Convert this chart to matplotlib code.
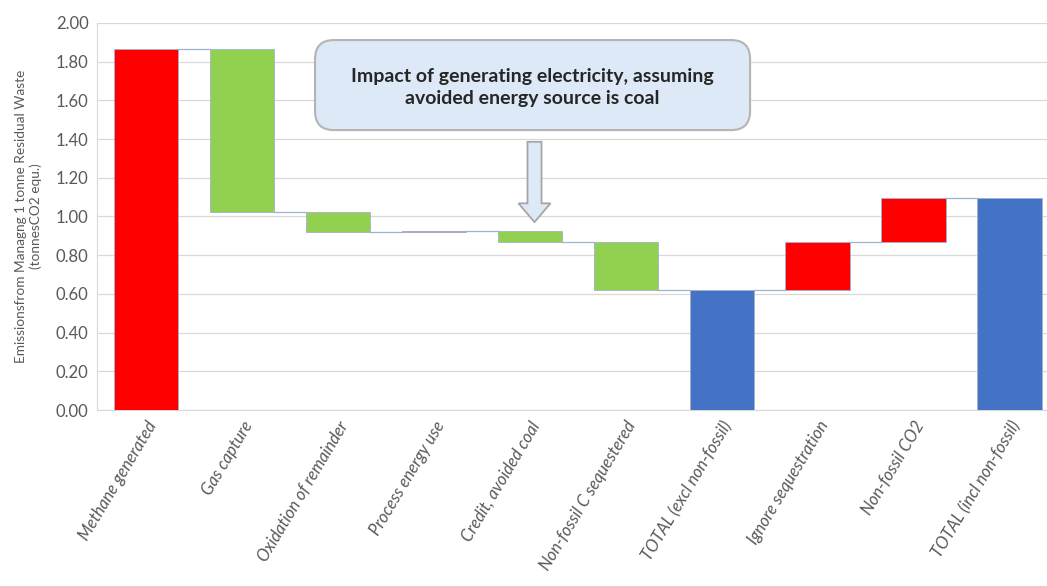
import numpy as np
from matplotlib import pyplot as plt
from matplotlib.patches import FancyArrow, FancyBboxPatch

categories = [
    "Methane generated",
    "Gas capture",
    "Oxidation of remainder",
    "Process energy use",
    "Credit, avoided coal",
    "Non-fossil C sequestered",
    "TOTAL (excl non-fossil)",
    "Ignore sequestration",
    "Non-fossil CO2",
    "TOTAL (incl non-fossil)",
]
# step changes; None marks a running-total bar
changes = [1.866, -0.845, -0.100, 0.005, -0.060, -0.247, None, 0.247, 0.231, None]
yticks = [0.0, 0.2, 0.4, 0.6, 0.8, 1.0, 1.2, 1.4, 1.6, 1.8, 2.0]

RED = "#ff0000"
GREEN = "#92d050"
BLUE = "#4472c4"
EDGE = "#9fb3cc"

plt.rcParams["font.family"] = ["Lato", "DejaVu Sans"]

fig = plt.figure(figsize=(10.47, 5.86), dpi=100)
ax = fig.add_axes([0.0926, 0.3003, 0.9074, 0.6605])

bottoms, heights, colors, tops = [], [], [], []
level = 0.0
for ch in changes:
    if ch is None:
        bottoms.append(0.0)
        heights.append(level)
        colors.append(BLUE)
    else:
        start = level
        level = level + ch
        bottoms.append(min(start, level))
        heights.append(abs(ch))
        colors.append(RED if ch > 0 else GREEN)
    tops.append(level)

x = np.arange(len(categories))
width = 0.67
ax.bar(x, heights, width, bottom=bottoms, color=colors,
       edgecolor=EDGE, linewidth=0.6, zorder=3)

# connectors between consecutive bars
for i in range(len(x) - 1):
    ax.plot([x[i] + width / 2, x[i + 1] - width / 2], [tops[i], tops[i]],
            color=EDGE, linewidth=0.9, zorder=2)

ax.set_xlim(-0.51, 9.39)
ax.set_ylim(0, 2.0)
ax.set_yticks(yticks)
ax.set_yticklabels([f"{v:.2f}" for v in yticks], fontsize=12, color="#595959")
ax.set_xticks(x)
ax.set_xticklabels(categories, rotation=59, ha="right", va="top",
                   rotation_mode="anchor", fontsize=12, style="italic",
                   color="#595959")
ax.tick_params(length=0, pad=6)
ax.grid(True, axis="y", color="#d9d9d9", linewidth=0.9, zorder=0)
for side in ["top", "right"]:
    ax.spines[side].set_visible(False)
for side in ["left", "bottom"]:
    ax.spines[side].set_color("#d9d9d9")
ax.set_ylabel("Emissionsfrom Managng 1 tonne Residual Waste\n(tonnesCO2 equ.)",
              fontsize=9.8, color="#595959", labelpad=10)

# callout box and arrow pointing at the coal credit
box = FancyBboxPatch((0.3009, 0.778), 0.4155, 0.1536, transform=fig.transFigure,
                     boxstyle="round,pad=0,rounding_size=0.018",
                     facecolor="#dde9f7", edgecolor="#b4b4b4", linewidth=1.5,
                     mutation_aspect=1.79, zorder=5)
fig.patches.append(box)
fig.text(0.5086, 0.850,
         "Impact of generating electricity, assuming\navoided energy source is coal",
         ha="center", va="center", fontsize=14, fontweight="bold",
         color="#262626", linespacing=1.35, zorder=6)
arrow = FancyArrow(0.5105, 0.758, 0, -0.137, width=0.0134, head_width=0.0306,
                   head_length=0.032, length_includes_head=True,
                   transform=fig.transFigure, facecolor="#dde9f7",
                   edgecolor="#a6a6a6", linewidth=1.3, zorder=5)
fig.patches.append(arrow)

fig.savefig("out.png", dpi=100)
